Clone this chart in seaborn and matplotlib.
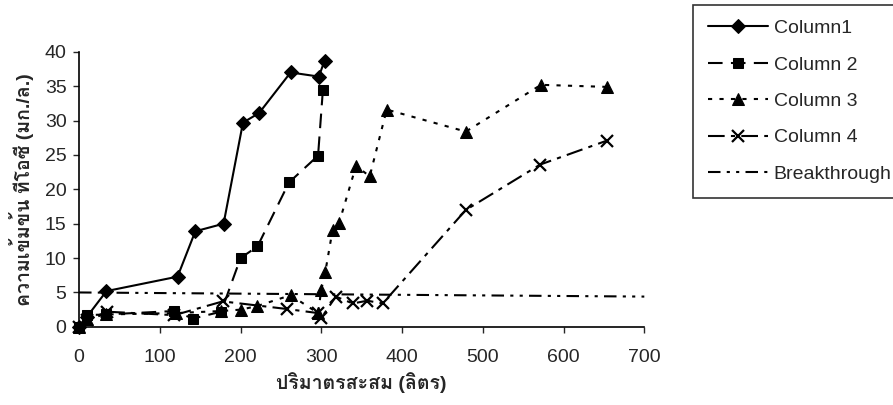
import matplotlib
matplotlib.use("Agg")
import matplotlib.pyplot as plt
from matplotlib import font_manager, ft2font
import seaborn as sns
import pandas as pd

# Cumulative volume (litres) and TOC concentration (mg/L) for each column
col1_x = [0, 10, 34, 122, 144, 179, 203, 223, 262, 297, 304]
col1_y = [0, 1.5, 5.2, 7.3, 13.9, 15.0, 29.7, 31.1, 37.0, 36.4, 38.7]

col2_x = [0, 10, 33, 118, 141, 176, 200, 221, 260, 296, 302]
col2_y = [0, 1.7, 1.8, 2.3, 1.2, 2.2, 10.0, 11.7, 21.0, 24.9, 34.5]

col3_x = [0, 10, 33, 120, 176, 200, 220, 262, 296, 300, 305, 314, 322, 343, 360, 381, 479, 572, 654]
col3_y = [0, 1.2, 1.8, 2.0, 2.3, 2.5, 3.0, 4.6, 2.0, 5.4, 8.0, 14.1, 15.1, 23.4, 21.9, 31.6, 28.4, 35.2, 34.9]

col4_x = [0, 10, 35, 118, 178, 257, 296, 300, 318, 339, 357, 376, 479, 571, 654]
col4_y = [0, 1.0, 2.2, 1.7, 3.7, 2.6, 2.0, 1.3, 4.4, 3.4, 3.8, 3.4, 17.0, 23.6, 27.1]

brk_x = [0, 700]
brk_y = [5.0, 4.4]

series_names = ["Column1", "Column 2", "Column 3", "Column 4", "Breakthrough"]
x_ticks = [0, 100, 200, 300, 400, 500, 600, 700]
y_ticks = [0, 5, 10, 15, 20, 25, 30, 35, 40]
x_label = "ปริมาตรสะสม (ลิตร)"
y_label = "ความเข้มข้น ทีโอซี (มก./ล.)"

frames = []
for name, xs, ys in zip(series_names,
                        [col1_x, col2_x, col3_x, col4_x, brk_x],
                        [col1_y, col2_y, col3_y, col4_y, brk_y]):
    frames.append(pd.DataFrame({"volume": xs, "toc": ys, "series": name}))
df = pd.concat(frames, ignore_index=True)


def thai_family():
    """Return an installed family that has Thai glyphs, if any."""
    for f in font_manager.fontManager.ttflist:
        try:
            cmap = ft2font.FT2Font(f.fname).get_charmap()
        except Exception:
            continue
        if 0x0E01 in cmap and 0x0E2A in cmap:
            return f.name
    return None


sns.set_style("ticks")
base = "Liberation Sans"
tfam = thai_family()
plt.rcParams["font.family"] = [base] + ([tfam] if tfam else []) + ["DejaVu Sans"]

fig = plt.figure(figsize=(8.93, 4.05), dpi=100)
ax = fig.add_axes([0.0885, 0.193, 0.633, 0.679])

styles = {
    "Column1": dict(linestyle="-", marker="D", markersize=7),
    "Column 2": dict(linestyle=(0, (7, 4)), marker="s", markersize=7),
    "Column 3": dict(linestyle=(0, (2, 3.5)), marker="^", markersize=8),
    "Column 4": dict(linestyle=(0, (8, 3, 2, 3)), marker="x", markersize=9, markeredgewidth=1.6),
    "Breakthrough": dict(linestyle=(0, (6, 3, 1.5, 3, 1.5, 3)), marker=None),
}

for name in series_names:
    sub = df[df["series"] == name]
    sns.lineplot(data=sub, x="volume", y="toc", ax=ax, sort=False, estimator=None,
                 color="black", linewidth=1.5, label=name, clip_on=False,
                 markeredgecolor="black", **styles[name])

ax.set_xlim(0, 700)
ax.set_ylim(0, 40)
ax.set_xticks(x_ticks)
ax.set_yticks(y_ticks)
ax.tick_params(axis="x", labelsize=14, length=4, width=1, pad=12, direction="out")
ax.tick_params(axis="y", labelsize=14, length=4, width=1, pad=5, direction="out")
for s in ["top", "right"]:
    ax.spines[s].set_visible(False)
for s in ["left", "bottom"]:
    ax.spines[s].set_color("black")
    ax.spines[s].set_linewidth(1.2)

ax.set_xlabel(x_label, fontsize=14, fontweight="bold", labelpad=4)
ax.set_ylabel(y_label, fontsize=14, fontweight="bold", labelpad=8)

leg = ax.legend(loc="upper left", bbox_to_anchor=(0.776, 0.988),
                bbox_transform=fig.transFigure, fontsize=14, frameon=True,
                fancybox=False, edgecolor="black", handlelength=3.1,
                handletextpad=0.3, labelspacing=0.97, borderpad=0.75,
                borderaxespad=0)
leg.get_frame().set_linewidth(1.2)

fig.savefig("out.png", dpi=100)
